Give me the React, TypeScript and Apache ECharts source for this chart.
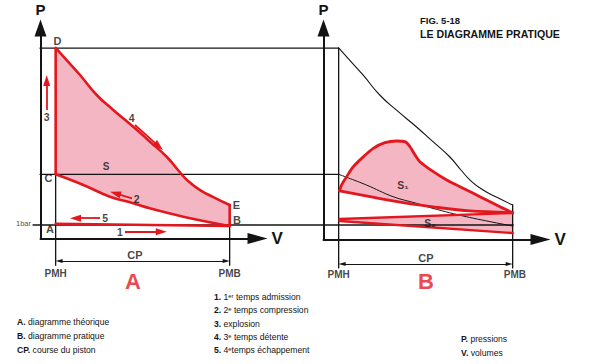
import React, { useEffect, useRef } from 'react';
import * as echarts from 'echarts';

const FONT = '"Liberation Sans", Arial, Helvetica, sans-serif';
const RED = '#e3171e';
const PINK = '#f4b6c3';
const INK = '#141414';

// ---- data (u = volume units, PMH = 9, PMB = 109 ; p = pressure units, 1 bar = 1) ----
const PMH = 9;
const PMB = 109;
const P_D = 14.6;
const P_C = 4.9;
const P_E = 2.54;
const P_B = 0.92;
const P_A = 1.1;
const P_1BAR = 1.0;
const EXT_LEFT = -2.1;
const EXT_RIGHT = -2.3;
const DIM_LEFT = -1.77;
const DIM_RIGHT = -2.0;

// theoretical cycle (D -> E expansion, C -> B compression)
const expansionCurve = [
  [9, 14.62], [15.3, 13.69], [23.0, 12.54], [32.6, 11.0], [42.1, 9.85], [53.6, 8.56],
  [63.2, 7.41], [72.8, 6.25], [79.3, 5.23], [85.1, 4.38], [92.0, 3.69], [99.6, 3.15], [109, 2.54],
];
const compressionCurve = [
  [9, 4.9], [24.9, 4.08], [40.2, 3.18], [53.6, 2.67], [63.2, 2.28], [82.3, 1.64], [109, 0.92],
];

// practical cycle (right panel)
const s1Upper = [
  [9.5, 3.62], [10.7, 4.08], [13.6, 4.72], [17.4, 5.48], [23.2, 6.25], [28.9, 6.9], [35.6, 7.33],
  [42.3, 7.46], [47.1, 7.41], [50, 7.02], [52.9, 6.38], [55.7, 5.87], [63.4, 5.1], [71.1, 4.46],
  [78.7, 3.95], [86.4, 3.44], [94, 2.92], [101.7, 2.41], [109, 1.95],
];
const s1Lower = [[109, 1.95], [84.5, 2.08], [65.3, 2.36], [46.1, 2.72], [27, 3.18], [9.5, 3.62]];
const s2Upper = [[9.5, 1.46], [109, 1.92]];
const s2Lower = [[9.5, 1.31], [109, 0.38]];

// lines crossing both panels (full-width scale)
const RIGHT_PMH_FULL = 171.5;
const RIGHT_PMB_FULL = 272;
const ONEBAR_START = -4;

// stroke arrows (tail -> head) in the left panel
const strokeArrows = [
  [[3.85, 9.85], [3.85, 12.12]],
  [[54.6, 8.69], [68.3, 7.05]],
  [[52.9, 3.05], [43.3, 3.44]],
  [[34.5, 1.52], [20.4, 1.52]],
  [[48.8, 0.48], [69.7, 0.48]],
];

// labels [text, u, p]
const pointLetters = [['D', 10.05, 15.15], ['C', 4.88, 4.58], ['A', 5.75, 0.69], ['E', 112.9, 2.54], ['B', 113.2, 1.38]];
const strokeNumbers = [['3', 3.85, 9.33], ['4', 52.7, 9.21], ['2', 55.6, 2.98], ['5', 37.4, 1.52], ['1', 46.0, 0.48]];
const leftAreaLabels = [['S', 38.0, 5.5]];
const rightAreaLabels = [['S₁', 46.0, 4.08], ['S₂', 61.5, 1.15]];
const leftDimLabels = [['CP', 54.6, -1.31]];
const rightDimLabels = [['CP', 59.2, -1.5]];
const leftEndLabels = [['PMH', PMH, -2.73], ['PMB', PMB, -2.73]];
const rightEndLabels = [['PMH', PMH, -2.77], ['PMB', PMB + 1.3, -2.77]];
const leftPanelLetter = [['A', 53.4, -3.38]];
const rightPanelLetter = [['B', 59.2, -3.38]];
const oneBarLabel = [['1bar', -9.5, 1.08]];

const titleLines = ['FIG. 5-18', 'LE DIAGRAMME PRATIQUE'];
const legendDiagrams = [['A.', 'diagramme théorique'], ['B.', 'diagramme pratique'], ['CP.', 'course du piston']];
const legendStrokes = [
  ['1.', '1ᵉʳ temps admission'], ['2.', '2ᵉ temps compression'], ['3.', 'explosion'],
  ['4.', '3ᵉ temps détente'], ['5.', '4ᵉtemps échappement'],
];
const legendAxes = [['P.', 'pressions'], ['V.', 'volumes']];

// ---- builders ----
const fillSeries = (g: number, pts: number[][]) => ({
  type: 'custom',
  xAxisIndex: g,
  yAxisIndex: g,
  data: pts,
  z: 1,
  silent: true,
  renderItem: (params: any, api: any) => {
    if (params.dataIndex !== 0) return null;
    const points = pts.map((p) => api.coord(p));
    return { type: 'polygon', shape: { points }, style: { fill: PINK } };
  },
});

const lineSeries = (g: number, data: number[][], color: string, width: number, smooth: number | boolean = false, z = 3, extra: any = {}) => ({
  type: 'line',
  xAxisIndex: g,
  yAxisIndex: g,
  data,
  symbol: 'none',
  showSymbol: false,
  smooth,
  clip: false,
  silent: true,
  z,
  lineStyle: { color, width, cap: 'round', join: 'round' },
  emphasis: { disabled: true },
  ...extra,
});

const labelSeries = (g: number, items: any[], fontSize: number, color = INK, weight = 'bold', z = 8) => ({
  type: 'scatter',
  xAxisIndex: g,
  yAxisIndex: g,
  symbol: 'circle',
  symbolSize: 1,
  clip: false,
  itemStyle: { color: 'rgba(0,0,0,0)' },
  silent: true,
  z,
  label: { show: true, position: 'inside', fontFamily: FONT, fontWeight: weight, fontSize, color },
  data: items.map((it) => ({ value: [it[1], it[2]], label: { formatter: it[0] } })),
});

const hiddenX = (g: number, min: number, max: number) => ({ type: 'value', gridIndex: g, min, max, show: false });
const hiddenY = (g: number) => ({ type: 'value', gridIndex: g, min: -5, max: 17, show: false });

const arrowX = (g: number) => ({
  type: 'value', gridIndex: g, min: 0, max: 1,
  name: 'V', nameLocation: 'end', nameGap: 14,
  nameTextStyle: { fontFamily: FONT, fontWeight: 'bold', fontSize: 17, color: INK },
  axisLine: { show: true, onZero: false, symbol: ['none', 'triangle'], symbolSize: [11, 20], lineStyle: { color: INK, width: 2 } },
  axisTick: { show: false }, axisLabel: { show: false }, splitLine: { show: false },
});
const arrowY = (g: number) => ({
  type: 'value', gridIndex: g, min: 0, max: 1,
  name: 'P', nameLocation: 'end', nameGap: 11,
  nameTextStyle: { fontFamily: FONT, fontWeight: 'bold', fontSize: 15, color: INK },
  axisLine: { show: true, onZero: false, symbol: ['none', 'triangle'], symbolSize: [12, 17], lineStyle: { color: INK, width: 2 } },
  axisTick: { show: false }, axisLabel: { show: false }, splitLine: { show: false },
});

const txt = (x: number, y: number, text: string, size: number, bold = false) => ({
  type: 'text', x, y, silent: true,
  style: { text, fontSize: size, fontWeight: bold ? 'bold' : 'normal', fontFamily: FONT, fill: INK, align: 'left', verticalAlign: 'middle' },
});
const richTxt = (x: number, y: number, pair: string[], size: number) => ({
  type: 'text', x, y, silent: true,
  style: {
    text: `{b|${pair[0]}} ${pair[1]}`,
    fontSize: size, fontFamily: FONT, fill: INK, align: 'left', verticalAlign: 'middle',
    rich: { b: { fontWeight: 'bold', fontSize: size, fontFamily: FONT, fill: INK } },
  },
});

export default function App() {
  const ref = useRef<HTMLDivElement>(null);
  useEffect(() => {
    if (!ref.current) return;
    const chart = echarts.init(ref.current, undefined, { renderer: 'svg' });
    const leftFill = [...expansionCurve, ...[...compressionCurve].reverse()];
    const s1Fill = [...s1Upper, ...s1Lower.slice(1)];
    const s2Fill = [s2Upper[0], s2Upper[1], s2Lower[1], s2Lower[0]];

    const option: any = {
      animation: false,
      backgroundColor: '#ffffff',
      grid: [
        { left: 40, top: 17, width: 226.2, height: 286 },
        { left: 323, top: 17, width: 226.2, height: 286 },
        { left: 20, top: 17, width: 529.83, height: 286 },
        { left: 40.5, top: 28, width: 217, height: 210.5 },
        { left: 323.5, top: 28, width: 217, height: 211.5 },
      ],
      xAxis: [hiddenX(0, 0, 130), hiddenX(1, 0, 130), hiddenX(2, -11.5, 293), arrowX(3), arrowX(4)],
      yAxis: [hiddenY(0), hiddenY(1), hiddenY(2), arrowY(3), arrowY(4)],
      series: [
        // fills
        fillSeries(0, leftFill),
        fillSeries(1, s1Fill),
        fillSeries(1, s2Fill),
        // black construction lines
        lineSeries(2, [[0, P_D], [RIGHT_PMH_FULL, P_D]], INK, 1.3, false, 2),
        lineSeries(2, [[0, P_C], [RIGHT_PMH_FULL, P_C]], INK, 1.3, false, 2),
        lineSeries(2, [[ONEBAR_START, P_1BAR], [RIGHT_PMB_FULL, P_1BAR]], INK, 1.3, false, 2),
        lineSeries(0, [[PMH, P_D], [PMH, EXT_LEFT]], INK, 1.3, false, 2),
        lineSeries(0, [[PMB, P_E], [PMB, EXT_LEFT]], INK, 1.3, false, 2, {
          markLine: {
            silent: true, symbol: ['triangle', 'triangle'], symbolSize: [4, 7],
            label: { show: false }, lineStyle: { color: INK, width: 1.2, type: 'solid' },
            data: [[{ coord: [PMH + 2, DIM_LEFT] }, { coord: [PMB - 2, DIM_LEFT] }]],
          },
        }),
        lineSeries(1, [[PMH, P_D], [PMH, EXT_RIGHT]], INK, 1.3, false, 2),
        lineSeries(1, [[PMB, P_E], [PMB, EXT_RIGHT]], INK, 1.3, false, 2, {
          markLine: {
            silent: true, symbol: ['triangle', 'triangle'], symbolSize: [4, 7],
            label: { show: false }, lineStyle: { color: INK, width: 1.2, type: 'solid' },
            data: [[{ coord: [PMH + 2, DIM_RIGHT] }, { coord: [PMB - 2, DIM_RIGHT] }]],
          },
        }),
        lineSeries(1, expansionCurve, INK, 1.1, 0.5, 2),
        lineSeries(1, compressionCurve, INK, 1.0, 0.4, 2),
        // red theoretical cycle
        lineSeries(0, expansionCurve, RED, 2.6, 0.5, 4),
        lineSeries(0, [[PMB, P_E], [PMB, P_B]], RED, 2.6, false, 4),
        lineSeries(0, compressionCurve, RED, 2.6, 0.4, 4),
        lineSeries(0, [[PMH, P_C], [PMH, P_D]], RED, 2.6, false, 4),
        lineSeries(0, [[PMH, P_A], [PMB, P_B]], RED, 2.4, false, 4, {
          markLine: {
            silent: true, symbol: ['none', 'triangle'], symbolSize: [7, 11],
            label: { show: false }, lineStyle: { color: RED, width: 1.8, type: 'solid' },
            data: strokeArrows.map((a) => [{ coord: a[0] }, { coord: a[1] }]),
          },
        }),
        // red practical cycle
        lineSeries(1, s1Upper, RED, 2.8, 0.3, 4),
        lineSeries(1, s1Lower, RED, 2.8, 0.3, 4),
        lineSeries(1, s2Upper, RED, 2.4, false, 4),
        lineSeries(1, s2Lower, RED, 2.4, false, 4),
        // labels
        labelSeries(0, pointLetters, 11),
        labelSeries(0, strokeNumbers, 10.5),
        labelSeries(0, leftAreaLabels, 10),
        labelSeries(1, rightAreaLabels, 10.5),
        labelSeries(0, leftDimLabels, 11),
        labelSeries(1, rightDimLabels, 11),
        labelSeries(0, leftEndLabels, 10),
        labelSeries(1, rightEndLabels, 10),
        labelSeries(0, leftPanelLetter, 22, RED),
        labelSeries(1, rightPanelLetter, 22, RED),
        labelSeries(0, oneBarLabel, 7.5, INK, 'normal'),
      ],
      graphic: [
        txt(420, 20, titleLines[0], 9.5, true),
        txt(420, 34, titleLines[1], 10.6, true),
        ...legendDiagrams.map((p, i) => richTxt(17, 322 + i * 14, p, 8.6)),
        ...legendStrokes.map((p, i) => richTxt(214, 297 + i * 13.3, p, 8.6)),
        ...legendAxes.map((p, i) => richTxt(461, 339 + i * 14, p, 8.6)),
      ],
    };
    chart.setOption(option);
    return () => chart.dispose();
  }, []);
  return (
    <div
      ref={ref}
      style={{ position: 'fixed', left: 0, top: 0, width: 590, height: 364, background: '#fff' }}
    />
  );
}
